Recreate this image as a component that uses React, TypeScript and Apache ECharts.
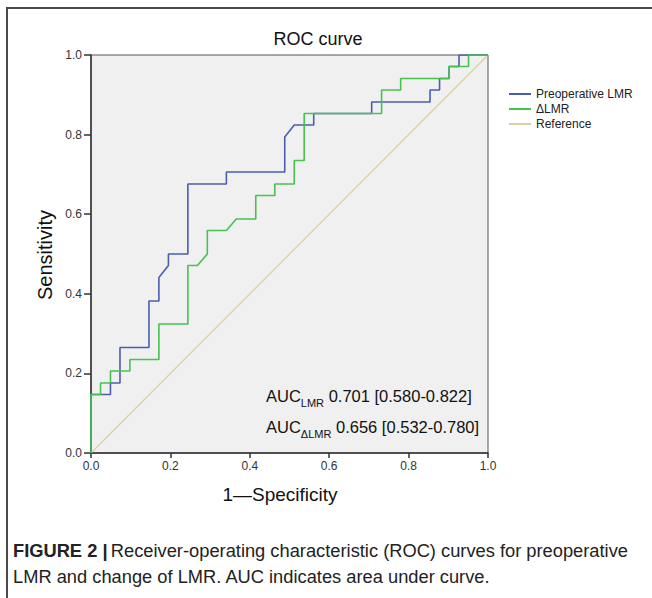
import React, { useEffect, useRef } from "react";
import * as echarts from "echarts";

// ROC points [1 - specificity, sensitivity]
const preoperativeLMR: [number, number][] = [
  [0, 0], [0, 0.147], [0.049, 0.147], [0.049, 0.176], [0.073, 0.176], [0.073, 0.265],
  [0.146, 0.265], [0.146, 0.382], [0.171, 0.382], [0.171, 0.441], [0.195, 0.471],
  [0.195, 0.5], [0.244, 0.5], [0.244, 0.676], [0.341, 0.676], [0.341, 0.706],
  [0.488, 0.706], [0.488, 0.794], [0.512, 0.824], [0.561, 0.824], [0.561, 0.853],
  [0.707, 0.853], [0.707, 0.882], [0.854, 0.882], [0.854, 0.912], [0.878, 0.912],
  [0.878, 0.941], [0.902, 0.941], [0.902, 0.971], [0.927, 0.971], [0.927, 1], [1, 1],
];

const deltaLMR: [number, number][] = [
  [0, 0], [0, 0.147], [0.024, 0.147], [0.024, 0.176], [0.049, 0.176], [0.049, 0.206],
  [0.098, 0.206], [0.098, 0.235], [0.171, 0.235], [0.171, 0.324], [0.244, 0.324],
  [0.244, 0.471], [0.268, 0.471], [0.293, 0.5], [0.293, 0.559], [0.341, 0.559],
  [0.366, 0.588], [0.415, 0.588], [0.415, 0.647], [0.463, 0.647], [0.463, 0.676],
  [0.512, 0.676], [0.512, 0.735], [0.537, 0.735], [0.537, 0.853], [0.732, 0.853],
  [0.732, 0.912], [0.780, 0.912], [0.780, 0.941], [0.902, 0.941], [0.902, 0.971],
  [0.951, 0.971], [0.951, 1], [1, 1],
];

const referenceLine: [number, number][] = [[0, 0], [1, 1]];

const seriesNames = ["Preoperative LMR", "ΔLMR", "Reference"];
const aucLines = [
  { sub: "LMR", text: " 0.701 [0.580-0.822]" },
  { sub: "ΔLMR", text: " 0.656 [0.532-0.780]" },
];

const FONT = "'Liberation Sans', Arial, sans-serif";

export default function App() {
  const ref = useRef<HTMLDivElement>(null);
  useEffect(() => {
    if (!ref.current) return;
    const chart = echarts.init(ref.current, undefined, { renderer: "svg" });
    chart.setOption({
      animation: false,
      backgroundColor: "#ffffff",
      textStyle: { fontFamily: FONT },
      title: {
        text: "ROC curve",
        left: 313,
        top: 25,
        textAlign: "center",
        textStyle: { fontSize: 18, fontWeight: "normal", color: "#111", fontFamily: FONT },
      },
      legend: {
        orient: "vertical",
        left: 504,
        top: 83,
        itemWidth: 22,
        itemHeight: 2,
        itemGap: 3,
        icon: "rect",
        data: seriesNames,
        textStyle: { fontSize: 12, color: "#222", fontFamily: FONT },
      },
      grid: {
        left: 91,
        top: 55,
        width: 397,
        height: 398,
        show: true,
        backgroundColor: "#f0f0f0",
        borderColor: "#555",
        borderWidth: 1,
      },
      xAxis: {
        type: "value",
        min: 0,
        max: 1,
        interval: 0.2,
        axisLine: { show: true, onZero: false, lineStyle: { color: "#333", width: 1.5 } },
        axisTick: { show: true, inside: false, length: 5, lineStyle: { color: "#333", width: 1.5 } },
        axisLabel: {
          fontSize: 12,
          color: "#333",
          margin: 7,
          fontFamily: FONT,
          formatter: (v: number) => v.toFixed(1),
        },
        splitLine: { show: false },
      },
      yAxis: {
        type: "value",
        min: 0,
        max: 1,
        interval: 0.2,
        axisLine: { show: true, onZero: false, lineStyle: { color: "#333", width: 1.5 } },
        axisTick: { show: true, inside: false, length: 7, lineStyle: { color: "#333", width: 1.5 } },
        axisLabel: {
          fontSize: 12,
          color: "#333",
          margin: 9,
          fontFamily: FONT,
          formatter: (v: number) => v.toFixed(1),
        },
        splitLine: { show: false },
      },
      series: [
        {
          name: "Reference",
          type: "line",
          data: referenceLine,
          symbol: "none",
          lineStyle: { color: "#d6d0a2", width: 1.2 },
          itemStyle: { color: "#d6d0a2" },
          z: 1,
        },
        {
          name: "Preoperative LMR",
          type: "line",
          data: preoperativeLMR,
          symbol: "none",
          lineStyle: { color: "#4a5db0", width: 1.6 },
          itemStyle: { color: "#4a5db0" },
          z: 2,
        },
        {
          name: "ΔLMR",
          type: "line",
          data: deltaLMR,
          symbol: "none",
          lineStyle: { color: "#45c24f", width: 1.6 },
          itemStyle: { color: "#45c24f" },
          z: 3,
        },
      ],
      graphic: [
        {
          type: "line",
          shape: { x1: 6, y1: 8, x2: 652, y2: 8 },
          style: { stroke: "#4a4a4a", lineWidth: 2 },
        },
        {
          type: "line",
          shape: { x1: 7, y1: 8, x2: 7, y2: 598 },
          style: { stroke: "#4a4a4a", lineWidth: 2 },
        },
        {
          type: "text",
          x: 45,
          y: 255,
          rotation: Math.PI / 2,
          style: {
            text: "Sensitivity",
            fontSize: 20,
            fill: "#111",
            fontFamily: FONT,
            align: "center",
            verticalAlign: "middle",
          },
        },
        {
          type: "text",
          x: 280,
          y: 494,
          style: {
            text: "1—Specificity",
            fontSize: 19,
            fill: "#111",
            fontFamily: FONT,
            align: "center",
            verticalAlign: "middle",
          },
        },
        ...aucLines.map((a, i) => ({
          type: "text",
          left: 266,
          top: 387 + i * 31,
          style: {
            text: `{m|AUC}{s|${a.sub}}{m|${a.text}}`,
            fontFamily: FONT,
            rich: {
              m: { fontSize: 16.5, fill: "#111", fontFamily: FONT, verticalAlign: "bottom", lineHeight: 20 },
              s: { fontSize: 11, fill: "#111", fontFamily: FONT, verticalAlign: "bottom", lineHeight: 14, padding: [0, 0, -4, 0] },
            },
          },
        })),
        {
          type: "text",
          left: 13,
          top: 541,
          style: {
            text: "{b|FIGURE 2 |} {n|Receiver-operating characteristic (ROC) curves for preoperative}",
            fontFamily: FONT,
            rich: {
              b: { fontSize: 18.3, fontWeight: "bold", fill: "#222", fontFamily: FONT },
              n: { fontSize: 18.3, fill: "#222", fontFamily: FONT },
            },
          },
        },
        {
          type: "text",
          left: 13,
          top: 567,
          style: {
            text: "LMR and change of LMR. AUC indicates area under curve.",
            fontSize: 18.3,
            fill: "#222",
            fontFamily: FONT,
          },
        },
      ],
    });
    return () => chart.dispose();
  }, []);
  return (
    <div
      ref={ref}
      style={{ position: "fixed", left: 0, top: 0, width: 652, height: 598 }}
    />
  );
}
